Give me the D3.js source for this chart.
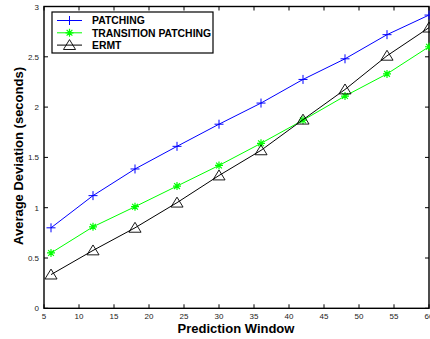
<!DOCTYPE html>
<html>
<head>
<meta charset="utf-8">
<script src="https://cdn.jsdelivr.net/npm/d3@7"></script>
<style>
  html, body { margin: 0; padding: 0; background: #fff; }
  svg { display: block; }
</style>
</head>
<body>
<script>
const windows = [6, 12, 18, 24, 30, 36, 42, 48, 54, 60];
const patching = [0.80, 1.12, 1.385, 1.61, 1.83, 2.04, 2.275, 2.48, 2.72, 2.915];
const transition = [0.55, 0.81, 1.01, 1.215, 1.42, 1.64, 1.87, 2.11, 2.33, 2.60];
const ermt = [0.335, 0.575, 0.80, 1.05, 1.32, 1.57, 1.875, 2.175, 2.51, 2.79];
const xTicks = [5, 10, 15, 20, 25, 30, 35, 40, 45, 50, 55, 60];
const yTicks = [0, 0.5, 1, 1.5, 2, 2.5, 3];

const W = 430, H = 339;
const svg = d3.select('body').append('svg')
  .attr('width', W)
  .attr('height', H);

const x = d3.scaleLinear().domain([5, 60]).range([44, 429]);
const y = d3.scaleLinear().domain([0, 3]).range([308.3, 6.5]);

const font = 'Liberation Sans, Arial, sans-serif';

// Frame
svg.append('rect')
  .attr('x', x(5)).attr('y', y(3))
  .attr('width', x(60) - x(5)).attr('height', y(0) - y(3))
  .attr('fill', 'none').attr('stroke', '#000').attr('stroke-width', 1.4);

// Ticks pointing inward, on all four sides
const tl = 4;
const tickG = svg.append('g').attr('stroke', '#000').attr('stroke-width', 1);
xTicks.forEach(t => {
  tickG.append('line').attr('x1', x(t)).attr('x2', x(t)).attr('y1', y(0)).attr('y2', y(0) - tl);
  tickG.append('line').attr('x1', x(t)).attr('x2', x(t)).attr('y1', y(3)).attr('y2', y(3) + tl);
});
yTicks.forEach(t => {
  tickG.append('line').attr('x1', x(5)).attr('x2', x(5) + tl).attr('y1', y(t)).attr('y2', y(t));
  tickG.append('line').attr('x1', x(60)).attr('x2', x(60) - tl).attr('y1', y(t)).attr('y2', y(t));
});

// Tick labels
svg.append('g').selectAll('text').data(xTicks).join('text')
  .attr('x', d => x(d)).attr('y', 319)
  .attr('text-anchor', 'middle')
  .attr('font-family', font).attr('font-size', 8).attr('fill', '#222')
  .text(d => d);

svg.append('g').selectAll('text').data(yTicks).join('text')
  .attr('x', 39).attr('y', d => y(d) + 3)
  .attr('text-anchor', 'end')
  .attr('font-family', font).attr('font-size', 8).attr('fill', '#222')
  .text(d => d);

// Axis titles
svg.append('text')
  .attr('x', 236).attr('y', 333)
  .attr('text-anchor', 'middle')
  .attr('font-family', font).attr('font-size', 13).attr('font-weight', 'bold')
  .text('Prediction Window');

svg.append('text')
  .attr('transform', 'translate(23,156) rotate(-90)')
  .attr('text-anchor', 'middle')
  .attr('font-family', font).attr('font-size', 13).attr('font-weight', 'bold')
  .text('Average Deviation (seconds)');

// Markers
function plusPath(s) { return `M${-s},0H${s}M0,${-s}V${s}`; }
function starPath(s) {
  const d = s * 0.72;
  return `M${-s},0H${s}M0,${-s}V${s}M${-d},${-d}L${d},${d}M${-d},${d}L${d},${-d}`;
}
function triPath(s) { return `M0,${-s}L${s * 1.1},${s * 0.8}L${-s * 1.1},${s * 0.8}Z`; }

const series = [
  { name: 'PATCHING', values: patching, color: '#0000ff', marker: plusPath(4.5), fill: 'none', sw: 1 },
  { name: 'TRANSITION PATCHING', values: transition, color: '#00ff00', marker: starPath(4), fill: 'none', sw: 1.2 },
  { name: 'ERMT', values: ermt, color: '#000000', marker: triPath(5.5), fill: 'none', sw: 0.9 }
];

const line = d3.line().x(d => x(d[0])).y(d => y(d[1]));

series.forEach(s => {
  const pts = windows.map((w, i) => [w, s.values[i]]);
  svg.append('path')
    .attr('d', line(pts))
    .attr('fill', 'none').attr('stroke', s.color).attr('stroke-width', 1);
  svg.append('g').selectAll('path').data(pts).join('path')
    .attr('transform', d => `translate(${x(d[0])},${y(d[1])})`)
    .attr('d', s.marker)
    .attr('fill', s.fill).attr('stroke', s.color).attr('stroke-width', s.sw);
});

// Legend
const lg = svg.append('g');
lg.append('rect')
  .attr('x', 52).attr('y', 12).attr('width', 161).attr('height', 41)
  .attr('fill', '#fff').attr('stroke', '#000').attr('stroke-width', 1.2);
series.forEach((s, i) => {
  const ly = 20.5 + i * 12.3;
  lg.append('line').attr('x1', 57).attr('x2', 82).attr('y1', ly).attr('y2', ly)
    .attr('stroke', s.color).attr('stroke-width', 1);
  lg.append('path').attr('transform', `translate(69.5,${ly})`).attr('d', s.marker)
    .attr('fill', s.fill).attr('stroke', s.color).attr('stroke-width', s.sw);
  lg.append('text').attr('x', 92).attr('y', ly + 3.8)
    .attr('font-family', font).attr('font-size', 10.4).attr('font-weight', 'bold')
    .text(s.name);
});
</script>
</body>
</html>
